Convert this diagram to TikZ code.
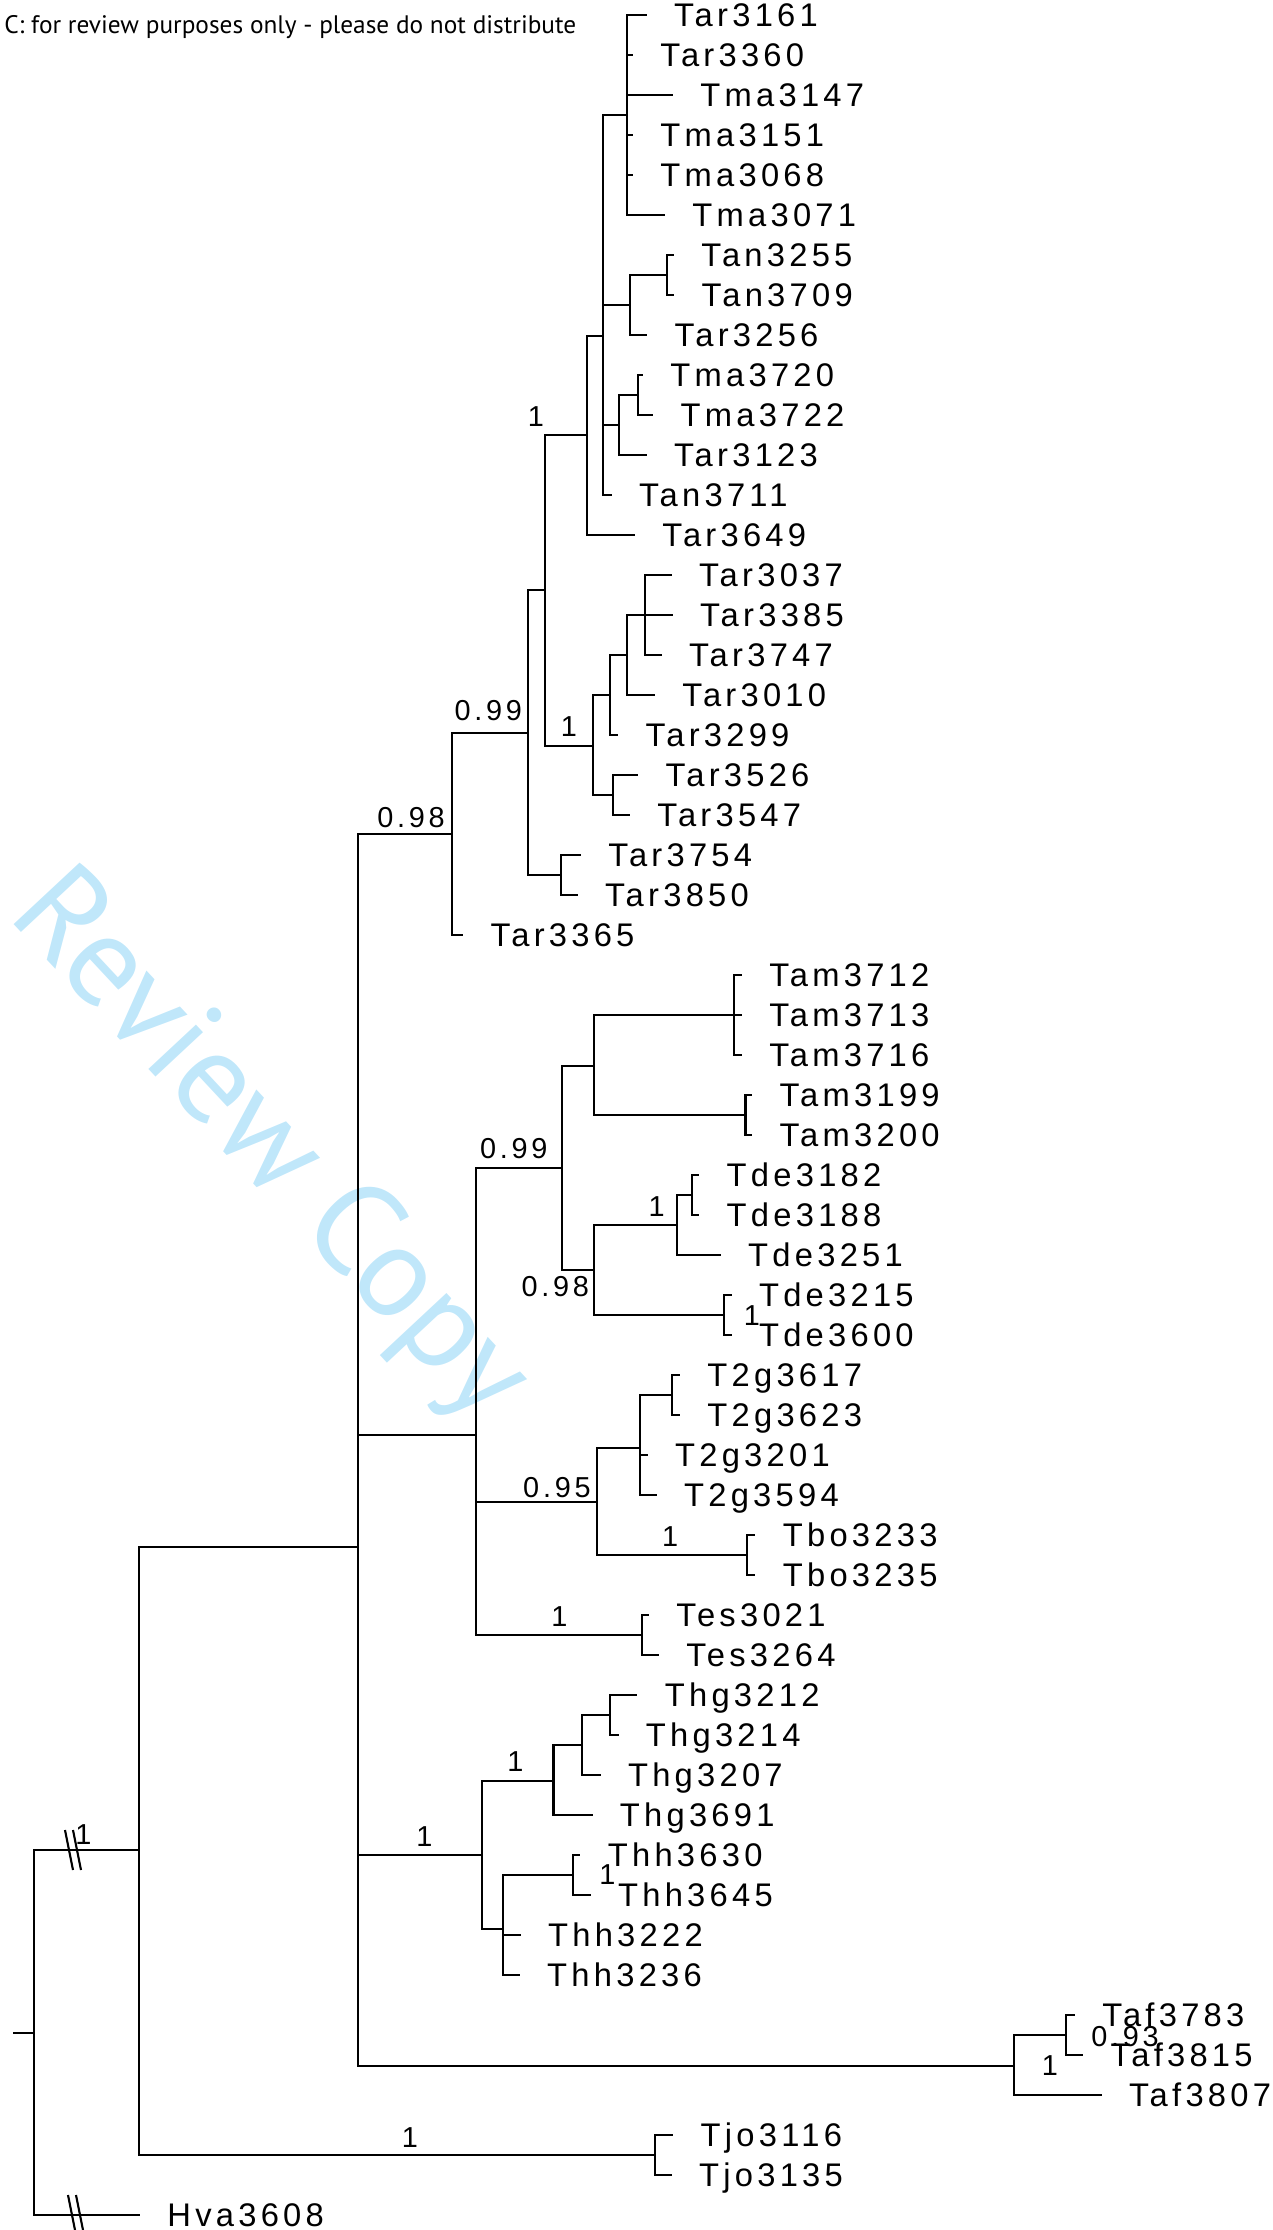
\documentclass[tikz,border=0pt]{standalone}
\usepackage{fontspec}
\setmainfont{Liberation Sans}
\newfontfamily\taxfont[LetterSpace=13]{Liberation Sans}
\newfontfamily\notefont{PT Sans}
\definecolor{wmblue}{RGB}{192,231,250}

\begin{document}
\begin{tikzpicture}[
  x=0.01cm, y=-0.01cm,
  branch/.style={draw, line width=0.6pt},
  leaf/.style={anchor=base west, inner sep=0pt, xshift=7.6pt, yshift=-3.35pt,
  font=\taxfont\fontsize{9.3}{11}\selectfont},
  support/.style={inner sep=0pt, font=\taxfont\fontsize{8.2}{10}\selectfont}
]
\useasboundingbox (0,0) rectangle (1272,2230);

\node[rotate=-47, text=wmblue, font=\notefont\fontsize{37}{37}\selectfont]
  (watermark) at (268,1148) {Review Copy};
\node[anchor=base east, inner sep=0pt, font=\notefont\fontsize{7.2}{9}\selectfont]
  (header) at (577,33) {C: for review purposes only - please do not distribute};

\foreach \taxon/\tx/\row in {
  Tar3161/646.7/0, Tar3360/633/1, Tma3147/673/2, Tma3151/633/3,
  Tma3068/633/4, Tma3071/665/5, Tan3255/674/6, Tan3709/674.3/7,
  Tar3256/647.3/8, Tma3720/643/9, Tma3722/653.3/10, Tar3123/646.7/11,
  Tan3711/611.7/12, Tar3649/635/13, Tar3037/671.7/14, Tar3385/672.7/15,
  Tar3747/661.7/16, Tar3010/655/17, Tar3299/618.3/18, Tar3526/638.3/19,
  Tar3547/630/20, Tar3754/581/21, Tar3850/577.7/22, Tar3365/463.3/23,
  Tam3712/741.9/24, Tam3713/741.9/25, Tam3716/741.9/26, Tam3199/752.2/27,
  Tam3200/752.2/28, Tde3182/699.3/29, Tde3188/699.3/30, Tde3251/720.8/31,
  Tde3215/731.6/32, Tde3600/731.6/33, T2g3617/680/34, T2g3623/680/35,
  T2g3201/647.7/36, T2g3594/656.7/37, Tbo3233/755.4/38, Tbo3235/755.4/39,
  Tes3021/649/40, Tes3264/658.9/41, Thg3212/637.4/42, Thg3214/618.5/43,
  Thg3207/600.6/44, Thg3691/592.5/45, Thh3630/580.4/46, Thh3645/590.7/47,
  Thh3222/520.7/48, Thh3236/519.8/49, Taf3783/1075/50, Taf3815/1083.3/51,
  Taf3807/1101.7/52, Tjo3116/673.3/53, Tjo3135/671.7/54, Hva3608/140/55}{
  \coordinate (\taxon) at (\tx,{15+40*\row});
  \node[leaf] (\taxon-label) at (\taxon) {\taxon};
}

\coordinate (rootstem) at (13.3,2033);
\coordinate (root) at (34.3,2033);
\coordinate (ingroup) at (139.4,1850);
\coordinate (crown) at (358.3,1547.3);
\coordinate (arA) at (451.7,834);
\coordinate (arB) at (527.7,732.7);
\coordinate (arC) at (545,590);
\coordinate (arD) at (586.7,435);
\coordinate (arE) at (603.3,335.7);
\coordinate (arF) at (626.7,115);
\coordinate (anA) at (630,305);
\coordinate (anB) at (666.7,275);
\coordinate (maA) at (619.3,425);
\coordinate (maB) at (637.7,395);
\coordinate (arG) at (592.7,745.7);
\coordinate (arH) at (610,695);
\coordinate (arI) at (626.7,655);
\coordinate (arJ) at (645,615);
\coordinate (arK) at (612.7,795);
\coordinate (arL) at (560.7,875);
\coordinate (midA) at (475.9,1435);
\coordinate (amde) at (562.4,1168.3);
\coordinate (amA) at (593.9,1065.7);
\coordinate (amB) at (734.3,1015);
\coordinate (amC) at (745.5,1115);
\coordinate (deA) at (593.9,1270);
\coordinate (deB) at (676.9,1225);
\coordinate (deC) at (691.7,1195);
\coordinate (deD) at (724,1315);
\coordinate (tgbo) at (597.4,1502.3);
\coordinate (tgA) at (639.6,1448.3);
\coordinate (tgB) at (672.4,1395);
\coordinate (bo) at (747.3,1555);
\coordinate (es) at (641.9,1635);
\coordinate (hgh) at (481.7,1855);
\coordinate (hgA) at (553.5,1780.7);
\coordinate (hgB) at (581.7,1745);
\coordinate (hgC) at (610.4,1715);
\coordinate (hhA) at (502.8,1929);
\coordinate (hhB) at (572.8,1875);
\coordinate (afA) at (1014,2066);
\coordinate (afB) at (1066,2035);
\coordinate (jo) at (655,2155);
\coordinate (brkIn) at (69,1850);
\coordinate (brkHva) at (72,2215);

\draw[branch] (rootstem) -- (root);
\foreach \parent/\child in {
  root/ingroup, root/Hva3608, ingroup/crown, ingroup/jo,
  crown/arA, crown/midA, crown/hgh, crown/afA,
  arA/arB, arA/Tar3365, arB/arC, arB/arL, arC/arD, arC/arG,
  arD/arE, arD/Tar3649, arE/arF, arE/anA, arE/maA, arE/Tan3711,
  arF/Tar3161, arF/Tar3360, arF/Tma3147, arF/Tma3151, arF/Tma3068, arF/Tma3071,
  anA/anB, anA/Tar3256, anB/Tan3255, anB/Tan3709,
  maA/maB, maA/Tar3123, maB/Tma3720, maB/Tma3722,
  arG/arH, arG/arK, arH/arI, arH/Tar3299, arI/arJ, arI/Tar3010,
  arJ/Tar3037, arJ/Tar3385, arJ/Tar3747, arK/Tar3526, arK/Tar3547,
  arL/Tar3754, arL/Tar3850,
  midA/amde, midA/tgbo, midA/es, amde/amA, amde/deA,
  amA/amB, amA/amC, amB/Tam3712, amB/Tam3713, amB/Tam3716,
  amC/Tam3199, amC/Tam3200, deA/deB, deA/deD, deB/deC, deB/Tde3251,
  deC/Tde3182, deC/Tde3188, deD/Tde3215, deD/Tde3600,
  tgbo/tgA, tgbo/bo, tgA/tgB, tgA/T2g3201, tgA/T2g3594,
  tgB/T2g3617, tgB/T2g3623, bo/Tbo3233, bo/Tbo3235, es/Tes3021, es/Tes3264,
  hgh/hgA, hgh/hhA, hgA/hgB, hgA/Thg3691, hgB/hgC, hgB/Thg3207,
  hgC/Thg3212, hgC/Thg3214, hhA/hhB, hhA/Thh3222, hhA/Thh3236,
  hhB/Thh3630, hhB/Thh3645, afA/afB, afA/Taf3807, afB/Taf3783, afB/Taf3815,
  jo/Tjo3116, jo/Tjo3135}
  \draw[branch] (\parent) |- (\child);

% break marks on the outgroup split
\draw[branch] ([shift={(-4,-20)}]brkIn) -- ([shift={(4,20)}]brkIn);
\draw[branch] ([shift={(4,-20)}]brkIn) -- ([shift={(12,20)}]brkIn);
\draw[branch] ([shift={(-4,-20)}]brkHva) -- ([shift={(4,20)}]brkHva);
\draw[branch] ([shift={(4,-20)}]brkHva) -- ([shift={(12,20)}]brkHva);

\node[support] (sIn) at (83.5,1835) {1};
\node[support] (sArD) at (536,417) {1};
\node[support] (sArG) at (569,727) {1};
\node[support] (sArB) at (488.3,711) {0.99};
\node[support] (sArA) at (411,817.5) {0.98};
\node[support] (sAmde) at (513.8,1149) {0.99};
\node[support] (sDeA) at (555.3,1286.7) {0.98};
\node[support] (sDeB) at (656.7,1206.7) {1};
\node[support] (sDeD) at (752,1316) {1};
\node[support] (sTgbo) at (556.9,1487.3) {0.95};
\node[support] (sBo) at (670.1,1536.7) {1};
\node[support] (sEs) at (559.3,1616.7) {1};
\node[support] (sHgh) at (424.3,1836.7) {1};
\node[support] (sHgA) at (515.3,1761.7) {1};
\node[support] (sHhB) at (607.3,1875) {1};
\node[support] (sAfB) at (1125,2036.7) {0.93};
\node[support] (sAfA) at (1050,2066) {1};
\node[support] (sJo) at (410,2138) {1};

\end{tikzpicture}
\end{document}
